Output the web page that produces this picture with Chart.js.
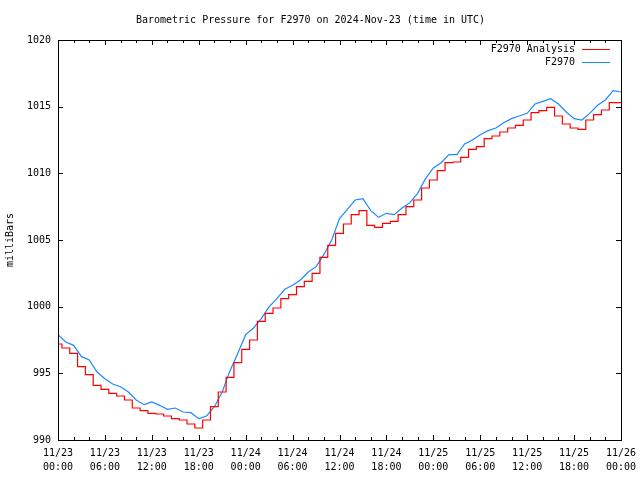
<!DOCTYPE html>
<html>
<head>
<meta charset="utf-8">
<script src="https://cdn.jsdelivr.net/npm/chart.js@4/dist/chart.umd.min.js"></script>
<style>
  html, body { margin: 0; padding: 0; background: #fff; }
  #wrap { width: 640px; height: 480px; }
</style>
</head>
<body>
<div id="wrap"><canvas id="chart" width="640" height="480"></canvas></div>
<script>
// hours since 2024-11-23 00:00 UTC
const hours = Array.from({ length: 73 }, (_, i) => i)

const analysis = [
  997.2, 996.9, 996.5, 995.5, 994.9, 994.1, 993.8, 993.5, 993.3, 993.0,
  992.4, 992.2, 992.0, 991.95, 991.8, 991.6, 991.5, 991.2, 990.9, 991.5,
  992.5, 993.6, 994.7, 995.8, 996.8, 997.5, 998.9, 999.5, 999.9, 1000.6,
  1000.9, 1001.5, 1001.9, 1002.5, 1003.7, 1004.6, 1005.5, 1006.2, 1006.9, 1007.2,
  1006.1, 1005.95, 1006.25, 1006.4, 1006.9, 1007.5, 1008.0, 1008.9, 1009.5, 1010.2,
  1010.8, 1010.85, 1011.2, 1011.8, 1012.0, 1012.6, 1012.8, 1013.1, 1013.4, 1013.6,
  1014.0, 1014.55, 1014.7, 1014.95, 1014.3, 1013.7, 1013.4, 1013.3, 1014.0, 1014.4,
  1014.75, 1015.3, 1015.3
]

const station = [
  997.9, 997.35, 997.1, 996.25, 996.0, 995.1, 994.6, 994.2, 994.0, 993.6,
  993.0, 992.65, 992.85, 992.6, 992.3, 992.4, 992.1, 992.05, 991.6, 991.8,
  992.5, 993.6, 995.2, 996.5, 997.9, 998.4, 999.1, 1000.0, 1000.6, 1001.3,
  1001.6, 1002.0, 1002.6, 1003.0, 1003.9, 1005.0, 1006.6, 1007.3, 1008.0, 1008.1,
  1007.2, 1006.7, 1007.0, 1006.9, 1007.4, 1007.8, 1008.5, 1009.6, 1010.4, 1010.8,
  1011.4, 1011.4, 1012.2, 1012.5, 1012.9, 1013.2, 1013.4, 1013.8, 1014.1, 1014.3,
  1014.5, 1015.2, 1015.4, 1015.6, 1015.2, 1014.6, 1014.1, 1014.0, 1014.5, 1015.1,
  1015.5, 1016.2, 1016.1
]

const yTicks = [990, 995, 1000, 1005, 1010, 1015, 1020]

const mono = "'DejaVu Sans Mono', 'Liberation Mono', monospace"
const pad = (n) => String(n).padStart(2, "0")

// gnuplot-like frame, inward ticks and a legend in the top right corner
const framePlugin = {
  id: "frame",
  afterDraw(chart) {
    const { ctx, chartArea: a, scales } = chart
    ctx.save()
    ctx.strokeStyle = "#000"
    ctx.lineWidth = 1
    ctx.strokeRect(a.left + 0.5, a.top + 0.5, a.right - a.left, a.bottom - a.top)

    ctx.beginPath()
    for (let h = 0; h <= 72; h += 2) {
      const x = Math.round(scales.x.getPixelForValue(h)) + 0.5
      const len = h % 6 === 0 ? 5 : 3
      ctx.moveTo(x, a.bottom); ctx.lineTo(x, a.bottom - len)
      ctx.moveTo(x, a.top); ctx.lineTo(x, a.top + len)
    }
    yTicks.forEach((v) => {
      const y = Math.round(scales.y.getPixelForValue(v)) + 0.5
      ctx.moveTo(a.left, y); ctx.lineTo(a.left + 5, y)
      ctx.moveTo(a.right, y); ctx.lineTo(a.right - 5, y)
    })
    ctx.stroke()

    ctx.font = "10px " + mono
    ctx.textAlign = "right"
    ctx.textBaseline = "middle"
    chart.data.datasets.forEach((ds, i) => {
      const y = a.top + 9 + i * 13
      ctx.fillStyle = "#000"
      ctx.fillText(ds.label, a.right - 46, y)
      ctx.strokeStyle = ds.borderColor
      ctx.beginPath()
      ctx.moveTo(a.right - 39, y + 0.5)
      ctx.lineTo(a.right - 11, y + 0.5)
      ctx.stroke()
    })
    ctx.restore()
  }
}

new Chart(document.getElementById("chart"), {
  type: "line",
  data: {
    labels: hours,
    datasets: [
      { label: "F2970 Analysis", data: analysis, borderColor: "#ff0000", borderWidth: 1.2, pointRadius: 0, stepped: "middle", fill: false },
      { label: "F2970", data: station, borderColor: "#1a8aff", borderWidth: 1.2, pointRadius: 0, tension: 0, fill: false }
    ]
  },
  options: {
    responsive: false,
    animation: false,
    layout: { padding: { left: 0, right: 19, top: 0, bottom: 0 } },
    plugins: {
      legend: { display: false },
      tooltip: { enabled: false },
      title: {
        display: true,
        text: "Barometric Pressure for F2970 on 2024-Nov-23 (time in UTC)",
        color: "#000",
        font: { family: mono, size: 10, weight: "normal", lineHeight: 1.2 },
        padding: { top: 14, bottom: 14 }
      }
    },
    scales: {
      x: {
        type: "linear",
        min: 0,
        max: 72,
        grid: { display: false, drawTicks: false },
        border: { display: false },
        afterFit(scale) {
          scale.height = 40
          scale.paddingLeft = 0
          scale.paddingRight = 0
        },
        ticks: {
          stepSize: 6,
          autoSkip: false,
          maxRotation: 0,
          padding: 6,
          color: "#000",
          font: { family: mono, size: 10, lineHeight: 1.4 },
          callback: (v) => ["11/" + (23 + Math.floor(v / 24)), pad(v % 24) + ":00"]
        }
      },
      y: {
        min: 990,
        max: 1020,
        grid: { display: false, drawTicks: false },
        border: { display: false },
        afterFit(scale) { scale.width = 58 },
        ticks: {
          stepSize: 5,
          padding: 7,
          color: "#000",
          font: { family: mono, size: 10 },
          callback: (v) => String(v)
        },
        title: {
          display: true,
          text: "milliBars",
          color: "#000",
          font: { family: mono, size: 10, lineHeight: 1.2 },
          padding: { top: 4, bottom: 0 }
        }
      }
    }
  },
  plugins: [framePlugin]
})
</script>
</body>
</html>
